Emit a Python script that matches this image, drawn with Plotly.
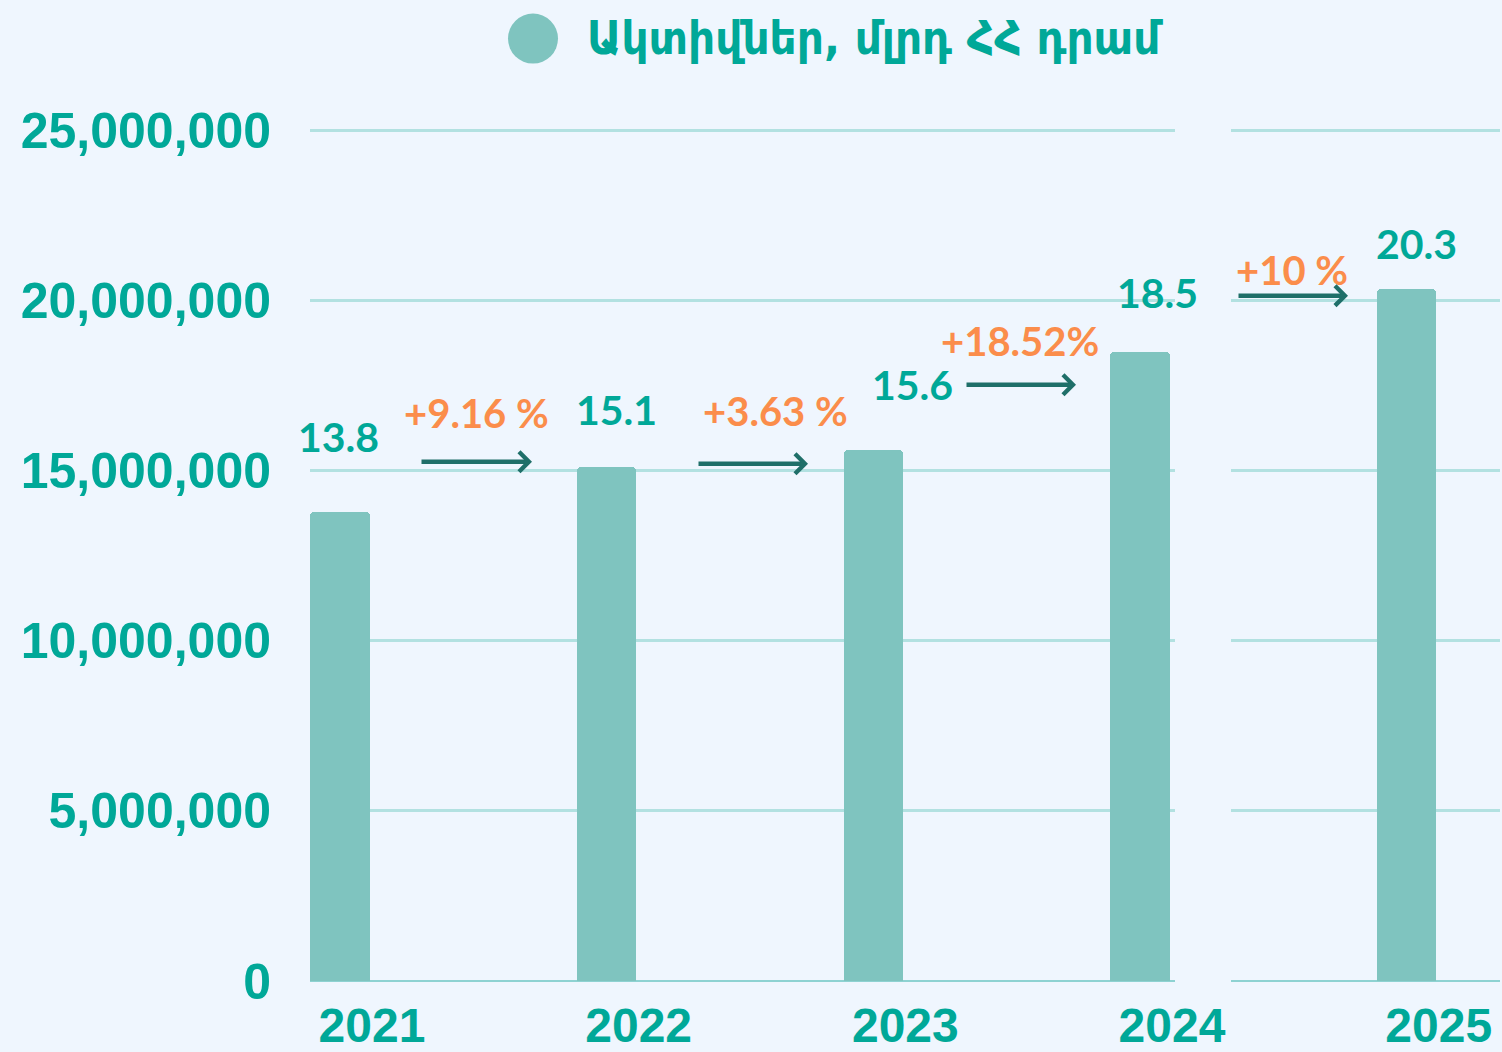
import plotly.graph_objects as go

# ---- data ----
years = ["2021", "2022", "2023", "2024", "2025"]
assets = [13.8e6, 15.1e6, 15.6e6, 18.5e6, 20.35e6]
value_labels = ["13.8", "15.1", "15.6", "18.5", "20.3"]
growth_labels = ["+9.16 %", "+3.63 %", "+18.52%", "+10 %"]
y_ticks = [0, 5e6, 10e6, 15e6, 20e6, 25e6]
y_tick_text = ["0", "5,000,000", "10,000,000", "15,000,000", "20,000,000", "25,000,000"]
title_text = "Ակտիվներ, մլրդ ՀՀ դրամ"

# ---- style ----
BG = "#eff6fe"
BAR = "#7fc4bf"
TEAL = "#00a898"
ORANGE = "#fb8d4b"
ARROW = "#1f6f69"
GRID = "#b2e1e1"

W, H = 1502, 1052
L, R, B = 310, 1500, 981
Y25 = 131                       # pixel row of the 25M gridline
PX_PER_UNIT_Y = (B - Y25) / 25e6
Y_TOP = 25.4e6
T = B - Y_TOP * PX_PER_UNIT_Y
UNIT = 266.67                   # px per category
GAP0, GAP1 = 1175, 1231         # gap between the two panels (px)


def xd(px):
    return (px - 340) / UNIT


def yd(py):
    return (B - py) / PX_PER_UNIT_Y


def xp(px):
    return px / W


def yp(py):
    return (B - py) / (B - T)


xs = list(range(len(years)))

fig = go.Figure()
fig.add_trace(go.Bar(
    x=xs[:4], y=assets[:4], width=0.222, xaxis="x", yaxis="y",
    marker=dict(color=BAR, cornerradius=4, line=dict(width=0)),
    hoverinfo="skip", showlegend=False,
))
fig.add_trace(go.Bar(
    x=xs[4:], y=assets[4:], width=0.222, xaxis="x2", yaxis="y2",
    marker=dict(color=BAR, cornerradius=4, line=dict(width=0)),
    hoverinfo="skip", showlegend=False,
))


def xref_for(px):
    return ("x2", "y2") if px > GAP1 else ("x", "y")


annotations = []
# value labels above bars (pixel offsets)
val_xshift = [-2, 10, 39, 17, 10]
val_yshift = [75, 58, 66, 59, 45]
for i, (v, lab) in enumerate(zip(assets, value_labels)):
    xr, yr = ("x2", "y2") if i == 4 else ("x", "y")
    annotations.append(dict(
        x=xs[i], y=v, xref=xr, yref=yr, text=lab, showarrow=False,
        xanchor="center", yanchor="middle",
        xshift=val_xshift[i], yshift=val_yshift[i],
        font=dict(family="Lato, Nunito, sans-serif", size=41, color=TEAL, weight="bold"),
    ))

# growth labels and arrows (pixel positions of decorations)
growth_pos = [(476, 413), (775, 411), (1020, 341), (1292, 270)]
arrow_pos = [(420, 532, 462), (697, 808, 464), (965, 1076, 385), (1237, 1348, 296)]
for lab, (gx, gy) in zip(growth_labels, growth_pos):
    xr, yr = xref_for(gx)
    annotations.append(dict(
        x=xd(gx), y=yd(gy), xref=xr, yref=yr, text=lab, showarrow=False,
        xanchor="center", yanchor="middle",
        font=dict(family="Lato, Nunito, sans-serif", size=40, color=ORANGE, weight="bold"),
    ))
for (ax0, ax1, ay) in arrow_pos:
    xr, yr = xref_for(ax1)
    annotations.append(dict(
        x=xd(ax1), y=yd(ay), xref=xr, yref=yr, ax=ax0 - ax1, ay=0, text="", showarrow=True,
        arrowhead=4, arrowsize=0.85, arrowwidth=4.5, arrowcolor=ARROW,
    ))

# title (legend-like)
annotations.append(dict(
    xref="paper", yref="paper", x=xp(585), y=yp(38), xanchor="left", yanchor="middle",
    text=title_text, showarrow=False,
    font=dict(family="DejaVu Sans Condensed, DejaVu Sans, sans-serif", size=47, color=TEAL, weight="bold"),
))

shapes = [
    dict(type="circle", xref="paper", yref="paper", x0=xp(508), x1=xp(558), y0=yp(14), y1=yp(64),
         fillcolor=BAR, line=dict(width=0), layer="above"),
]

tickfont_x = dict(family="Liberation Sans, Arial, sans-serif", size=48, color=TEAL, weight="bold")
tickfont_y = dict(family="Liberation Sans, Arial, sans-serif", size=50, color=TEAL, weight="bold")
common_x = dict(showgrid=False, zeroline=False, showline=False, ticks="", automargin=False,
                tickfont=tickfont_x, ticklabelstandoff=12, fixedrange=True)
common_y = dict(range=[0, Y_TOP], tickvals=y_ticks, showgrid=True, gridcolor=GRID, gridwidth=2.5,
                zeroline=True, zerolinecolor="#8ed2d2", zerolinewidth=2, automargin=False,
                showline=False, ticks="", fixedrange=True)

fig.update_layout(
    width=W, height=H,
    margin=dict(l=0, r=0, t=T, b=H - B, pad=0, autoexpand=False),
    paper_bgcolor=BG, plot_bgcolor=BG,
    annotations=annotations, shapes=shapes,
    bargap=0,
    xaxis=dict(domain=[L / W, GAP0 / W], range=[xd(L), xd(GAP0)],
               tickvals=[x + 0.12 for x in xs[:4]], ticktext=years[:4], anchor="y", **common_x),
    xaxis2=dict(domain=[GAP1 / W, R / W], range=[xd(GAP1), xd(R)],
                tickvals=[x + 0.12 for x in xs[4:]], ticktext=years[4:], anchor="y2", **common_x),
    yaxis=dict(anchor="x", ticktext=y_tick_text, tickfont=tickfont_y, ticklabelstandoff=38, **common_y),
    yaxis2=dict(anchor="x2", matches="y", showticklabels=False, **common_y),
)

fig.write_html(
    "out.html",
    config={"displayModeBar": False},
    post_script="document.body.style.margin='0';document.body.style.overflow='hidden';",
)
